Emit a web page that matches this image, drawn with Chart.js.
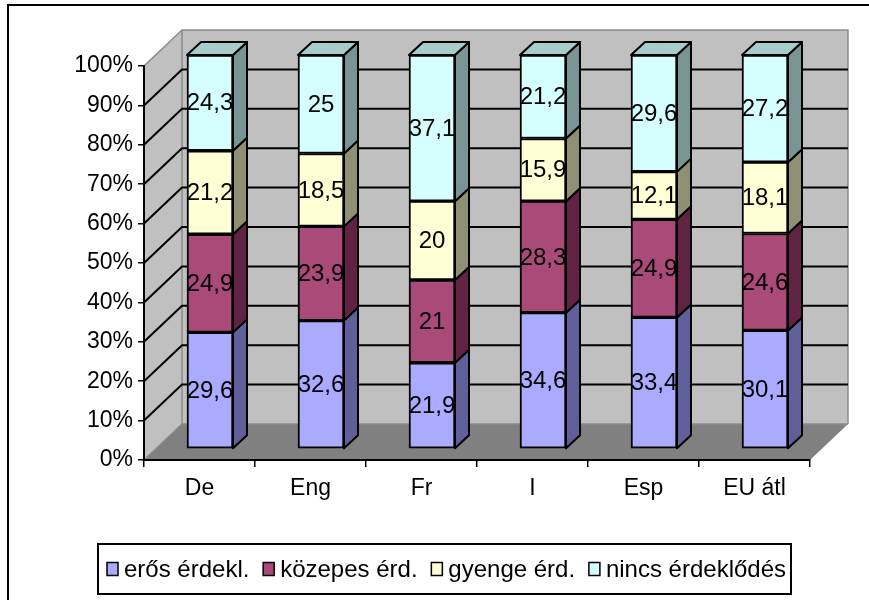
<!DOCTYPE html>
<html>
<head>
<meta charset="utf-8">
<script src="https://cdn.jsdelivr.net/npm/chart.js@4.4.1/dist/chart.umd.min.js"></script>
<style>
  html, body { margin: 0; padding: 0; background: #ffffff; }
  #wrap { width: 869px; height: 600px; }
</style>
</head>
<body>
<div id="wrap"><canvas id="c" width="869" height="600"></canvas></div>
<script>
// Categories (countries) and the four interest levels, percentages per country
const categories = ['De', 'Eng', 'Fr', 'I', 'Esp', 'EU átl'];
const seriesNames = ['erős érdekl.', 'közepes érd.', 'gyenge érd.', 'nincs érdeklődés'];
const erosErdekl = [29.6, 32.6, 21.9, 34.6, 33.4, 30.1];
const kozepesErd = [24.9, 23.9, 21.0, 28.3, 24.9, 24.6];
const gyengeErd = [21.2, 18.5, 20.0, 15.9, 12.1, 18.1];
const nincsErd = [24.3, 25.0, 37.1, 21.2, 29.6, 27.2];
const yTickValues = [0, 10, 20, 30, 40, 50, 60, 70, 80, 90, 100];

// Face colours per series: front, side, top
const frontColors = ['#AAAAFF', '#AA4A79', '#FFFFD5', '#D5FFFF'];
const sideColors  = ['#5F5F99', '#612344', '#8F8F74', '#789494'];
const topColors   = ['#8888CC', '#883A60', '#CCCCAA', '#A6CCCC'];

const FONT = '"Liberation Sans", Arial, Helvetica, sans-serif';

// 3D geometry: wall depth and bar placement inside the depth
const WALL_DX = 38, WALL_DY = 36;
const BAR_OX = 10.5, BAR_OY = -11;
const BAR_DX = 14, BAR_DY = 13;

const seriesValues = [erosErdekl, kozepesErd, gyengeErd, nincsErd];

function fmt(v) {
  return String(v).replace('.', ',');
}

const walls3d = {
  id: 'walls3d',
  beforeDraw(chart) {
    const ctx = chart.ctx;
    const a = chart.chartArea;
    const y = chart.scales.y;
    ctx.save();
    ctx.fillStyle = '#ffffff';
    ctx.fillRect(0, 0, chart.width, chart.height);

    // outer frame (left and top edges)
    ctx.strokeStyle = '#000000';
    ctx.lineWidth = 2;
    ctx.beginPath();
    ctx.moveTo(8, chart.height + 2);
    ctx.lineTo(8, 5);
    ctx.lineTo(chart.width + 2, 5);
    ctx.stroke();

    const L = a.left, R = a.right, T = a.top, B = a.bottom;
    // side wall
    ctx.fillStyle = '#C0C0C0';
    ctx.beginPath();
    ctx.moveTo(L, B); ctx.lineTo(L, T);
    ctx.lineTo(L + WALL_DX, T - WALL_DY); ctx.lineTo(L + WALL_DX, B - WALL_DY);
    ctx.closePath(); ctx.fill();
    // back wall
    ctx.fillRect(L + WALL_DX, T - WALL_DY, R - L, B - T);
    // floor
    ctx.fillStyle = '#808080';
    ctx.beginPath();
    ctx.moveTo(L, B); ctx.lineTo(R, B);
    ctx.lineTo(R + WALL_DX, B - WALL_DY); ctx.lineTo(L + WALL_DX, B - WALL_DY);
    ctx.closePath(); ctx.fill();

    // wall edges
    ctx.strokeStyle = '#8A8A8A';
    ctx.lineWidth = 1.5;
    ctx.beginPath();
    ctx.moveTo(L, T); ctx.lineTo(L + WALL_DX, T - WALL_DY);
    ctx.lineTo(R + WALL_DX, T - WALL_DY); ctx.lineTo(R + WALL_DX, B - WALL_DY);
    ctx.moveTo(L + WALL_DX, T - WALL_DY); ctx.lineTo(L + WALL_DX, B - WALL_DY);
    ctx.lineTo(R + WALL_DX, B - WALL_DY);
    ctx.moveTo(L, B); ctx.lineTo(L + WALL_DX, B - WALL_DY);
    ctx.stroke();

    // gridlines on side and back wall
    ctx.strokeStyle = '#000000';
    ctx.lineWidth = 2;
    ctx.beginPath();
    yTickValues.forEach(v => {
      if (v === 0 || v === 100) return;
      const py = y.getPixelForValue(v);
      ctx.moveTo(L, py);
      ctx.lineTo(L + WALL_DX, py - WALL_DY);
      ctx.lineTo(R + WALL_DX, py - WALL_DY);
    });
    ctx.stroke();
    ctx.restore();
  },
  beforeDatasetsDraw(chart) {
    chart.ctx.save();
    chart.ctx.translate(BAR_OX, BAR_OY);
  },
  afterDatasetsDraw(chart) {
    const ctx = chart.ctx;
    ctx.restore();
    ctx.save();
    const n = chart.data.datasets.length;
    ctx.lineJoin = 'round';
    for (let d = 0; d < n; d++) {
      const meta = chart.getDatasetMeta(d);
      meta.data.forEach(el => {
        const p = el.getProps(['x', 'y', 'base', 'width'], true);
        const left = p.x - p.width / 2 + BAR_OX;
        const right = p.x + p.width / 2 + BAR_OX;
        const top = Math.min(p.y, p.base) + BAR_OY;
        const bottom = Math.max(p.y, p.base) + BAR_OY;
        ctx.strokeStyle = '#000000';
        ctx.lineWidth = 2;
        // side face
        ctx.fillStyle = sideColors[d];
        ctx.beginPath();
        ctx.moveTo(right, top);
        ctx.lineTo(right + BAR_DX, top - BAR_DY);
        ctx.lineTo(right + BAR_DX, bottom - BAR_DY);
        ctx.lineTo(right, bottom);
        ctx.closePath();
        ctx.fill(); ctx.stroke();
        // top face on the uppermost segment
        if (d === n - 1) {
          ctx.fillStyle = topColors[d];
          ctx.beginPath();
          ctx.moveTo(left, top);
          ctx.lineTo(left + BAR_DX, top - BAR_DY);
          ctx.lineTo(right + BAR_DX, top - BAR_DY);
          ctx.lineTo(right, top);
          ctx.closePath();
          ctx.fill(); ctx.stroke();
        }
      });
    }
    // value labels on the front faces
    ctx.fillStyle = '#000000';
    ctx.font = '24px ' + FONT;
    ctx.textAlign = 'center';
    ctx.textBaseline = 'middle';
    for (let d = 0; d < n; d++) {
      const meta = chart.getDatasetMeta(d);
      const vals = chart.data.datasets[d].data;
      meta.data.forEach((el, i) => {
        const p = el.getProps(['x', 'y', 'base'], true);
        const cx = p.x + BAR_OX;
        const cy = (p.y + p.base) / 2 + BAR_OY;
        ctx.fillText(fmt(vals[i]), cx, cy + 1);
      });
    }
    ctx.restore();
  },
  afterDraw(chart) {
    // legend box
    const ctx = chart.ctx;
    ctx.save();
    const bx = 98, by = 544, bw = 693, bh = 50;
    ctx.fillStyle = '#ffffff';
    ctx.fillRect(bx, by, bw, bh);
    ctx.strokeStyle = '#000000';
    ctx.lineWidth = 2;
    ctx.strokeRect(bx, by, bw, bh);
    ctx.font = '24px ' + FONT;
    ctx.textBaseline = 'middle';
    ctx.textAlign = 'left';
    const mw = 11, mh = 13, mgap = 6;
    const startX = 107, endX = 786;
    const widths = seriesNames.map(s => ctx.measureText(s).width);
    const used = widths.reduce((s, w) => s + w + mw + mgap, 0);
    const gap = (endX - startX - used) / (seriesNames.length - 1);
    let x = startX;
    const cy = by + bh / 2;
    seriesNames.forEach((name, i) => {
      ctx.fillStyle = frontColors[i];
      ctx.fillRect(x, cy - mh / 2, mw, mh);
      ctx.lineWidth = 1.5;
      ctx.strokeRect(x, cy - mh / 2, mw, mh);
      ctx.fillStyle = '#000000';
      ctx.fillText(name, x + mw + mgap, cy + 1);
      x += mw + mgap + widths[i] + gap;
    });
    ctx.restore();
  }
};

const datasets = seriesNames.map((name, i) => ({
  label: name,
  data: seriesValues[i],
  backgroundColor: frontColors[i],
  borderColor: '#000000',
  borderWidth: 2,
  borderSkipped: false,
  barThickness: 46,
  clip: false
}));

new Chart(document.getElementById('c'), {
  type: 'bar',
  data: { labels: categories, datasets },
  options: {
    responsive: false,
    animation: false,
    devicePixelRatio: 1,
    layout: { padding: { left: 0, right: 59, top: 66, bottom: 0 } },
    plugins: {
      legend: { display: false },
      tooltip: { enabled: false }
    },
    scales: {
      x: {
        stacked: true,
        grid: { drawOnChartArea: false, drawTicks: true, tickLength: 7, color: '#000000', lineWidth: 1.5 },
        border: { display: true, color: '#000000', width: 2 },
        ticks: { color: '#000000', font: { family: FONT, size: 23 }, padding: 8, maxRotation: 0 },
        afterFit(s) { s.height = 140; }
      },
      y: {
        stacked: true,
        min: 0,
        max: 100,
        grid: { drawOnChartArea: false, drawTicks: true, tickLength: 6, color: '#000000', lineWidth: 1.5 },
        border: { display: true, color: '#000000', width: 2 },
        ticks: {
          stepSize: 10,
          color: '#000000',
          padding: 5,
          font: { family: FONT, size: 23 },
          callback: v => v + '%'
        },
        afterFit(s) { s.width = 144; }
      }
    }
  },
  plugins: [walls3d]
});
</script>
</body>
</html>
